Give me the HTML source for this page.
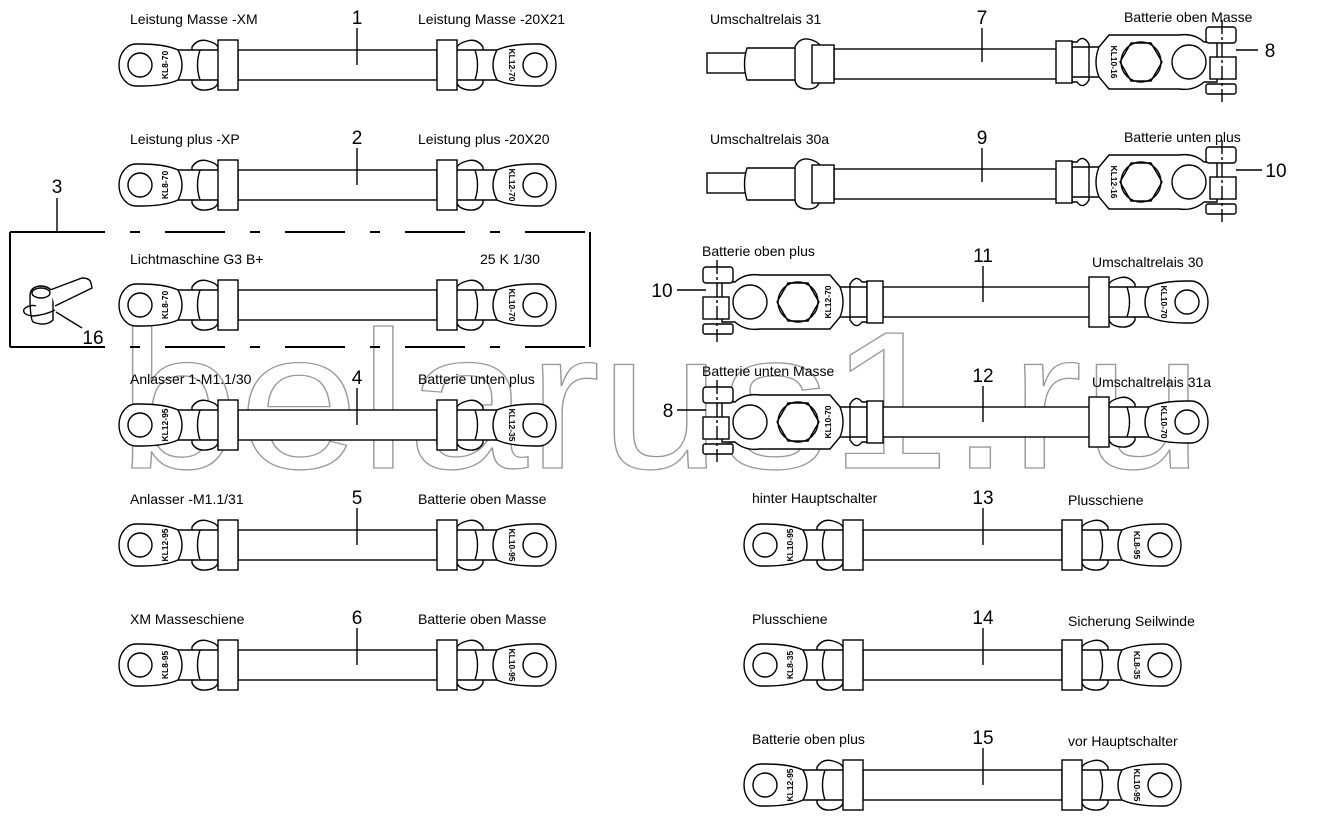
<!DOCTYPE html>
<html><head><meta charset="utf-8"><style>
html,body{margin:0;padding:0;background:#fff}
svg{display:block}
text{font-family:"Liberation Sans",sans-serif;fill:#000}
.l{font-size:14px}.n{font-size:19px}.k{font-size:8.5px;font-weight:bold}
</style></head><body>
<svg width="1320" height="826" viewBox="0 0 1320 826" xmlns="http://www.w3.org/2000/svg">
<defs>
<g id="endL" fill="#fff" stroke="#000" stroke-width="1.4">
  <path d="M 52,-18 Q 58,-27 68,-24 Q 76,-22 78,-18 L 78,18 Q 76,24 66,25 Q 56,26 52,18 Z"/>
  <path d="M 40,-15 L 80,-15 L 80,15 L 40,15 Z" stroke="none"/>
  <line x1="38" y1="-15" x2="80" y2="-15"/><line x1="38" y1="15" x2="80" y2="15"/>
  <path d="M 60,-15 Q 55,0 60,15" fill="none"/>
  <path d="M 38,-15 Q 25,-21 0,-21 L -4,-21 A 17 21 0 0 0 -4,21 L 0,21 Q 25,21 38,15 Q 46,0 38,-15 Z"/>
  <circle cx="0" cy="0" r="12"/>
  <rect x="78" y="-25" width="20" height="50"/>
</g>
<g id="clamp" fill="#fff" stroke="#000" stroke-width="1.4">
  <path d="M 850,-18 Q 856,-28 862,-20 L 867,-20 L 867,20 L 862,20 Q 856,28 850,18 Z"/>
  <line x1="840" y1="-15" x2="868" y2="-15"/><line x1="840" y1="15" x2="868" y2="15"/>
  <rect x="867" y="-21" width="16" height="42"/>
  <path d="M 840,-15 L 830,-27 L 760,-27 Q 745,-29 735,-20 L 722,-20 L 722,20 L 735,20 Q 745,29 760,27 L 830,27 L 840,15 Q 846,0 840,-15 Z"/>
  <circle cx="750" cy="0" r="17"/>
  <circle cx="798" cy="0" r="20"/>
  <polygon points="788,-19 808,-19 819,0 808,19 788,19 777,0" fill="none"/>
  <rect x="703" y="-35" width="30" height="16" rx="3"/>
  <rect x="703" y="-5" width="26" height="22"/>
  <rect x="703" y="22" width="30" height="10" rx="2"/>
  <line x1="717" y1="-42" x2="717" y2="40" stroke-dasharray="14 3 3 3"/>
</g>
</defs>

<text x="118" y="468" font-size="196" textLength="1085" lengthAdjust="spacingAndGlyphs" style="fill:none;stroke:#999;stroke-width:1.3;font-family:'Liberation Sans',sans-serif">belarus1.ru</text>

<g stroke="#000" stroke-width="1.4" fill="#fff">
<rect x="238" y="50" width="199" height="30"/>
<rect x="238" y="170" width="199" height="30"/>
<rect x="238" y="290" width="199" height="30"/>
<rect x="238" y="410" width="199" height="30"/>
<rect x="238" y="530" width="199" height="30"/>
<rect x="238" y="650" width="199" height="30"/>
<rect x="863" y="530" width="199" height="30"/>
<rect x="863" y="650" width="199" height="30"/>
<rect x="863" y="770" width="199" height="30"/>
<rect x="883" y="287" width="217" height="30"/>
<rect x="883" y="407" width="217" height="30"/>
<rect x="834" y="49" width="223" height="30"/>
<rect x="834" y="169" width="223" height="30"/>
</g>
<use href="#endL" transform="translate(140,65)"/><use href="#endL" transform="translate(535,65) scale(-1,1)"/>
<use href="#endL" transform="translate(140,185)"/><use href="#endL" transform="translate(535,185) scale(-1,1)"/>
<use href="#endL" transform="translate(140,305)"/><use href="#endL" transform="translate(535,305) scale(-1,1)"/>
<use href="#endL" transform="translate(140,425)"/><use href="#endL" transform="translate(535,425) scale(-1,1)"/>
<use href="#endL" transform="translate(140,545)"/><use href="#endL" transform="translate(535,545) scale(-1,1)"/>
<use href="#endL" transform="translate(140,665)"/><use href="#endL" transform="translate(535,665) scale(-1,1)"/>
<use href="#endL" transform="translate(765,545)"/><use href="#endL" transform="translate(1160,545) scale(-1,1)"/>
<use href="#endL" transform="translate(765,665)"/><use href="#endL" transform="translate(1160,665) scale(-1,1)"/>
<use href="#endL" transform="translate(765,785)"/><use href="#endL" transform="translate(1160,785) scale(-1,1)"/>
<use href="#endL" transform="translate(1187,302) scale(-1,1)"/>
<use href="#endL" transform="translate(1187,422) scale(-1,1)"/>
<use href="#clamp" transform="translate(0,302)"/>
<use href="#clamp" transform="translate(0,422)"/>
<use href="#clamp" transform="translate(1939,62) scale(-1,1)"/>
<use href="#clamp" transform="translate(1939,182) scale(-1,1)"/>

<g stroke="#000" stroke-width="1.4" fill="#fff">
<rect x="707" y="53" width="40" height="20"/>
<path d="M 747,48 L 810,48 L 810,80 L 747,80 Q 742,64 747,48 Z"/>
<path d="M 795,47 Q 800,36 812,40 Q 822,44 820,48 L 820,80 Q 818,90 806,89 Q 796,88 795,80 Z"/>
<rect x="812" y="45" width="22" height="38"/>
<rect x="707" y="173" width="40" height="20"/>
<path d="M 747,168 L 810,168 L 810,200 L 747,200 Q 742,184 747,168 Z"/>
<path d="M 795,167 Q 800,156 812,160 Q 822,164 820,168 L 820,200 Q 818,210 806,209 Q 796,208 795,200 Z"/>
<rect x="812" y="165" width="22" height="38"/>
</g>

<g class="k">
<text class="k" transform="translate(168,65) rotate(-90)" text-anchor="middle">KL8-70</text>
<text class="k" transform="translate(509,65) rotate(90)" text-anchor="middle">KL12-70</text>
<text class="k" transform="translate(168,185) rotate(-90)" text-anchor="middle">KL8-70</text>
<text class="k" transform="translate(509,185) rotate(90)" text-anchor="middle">KL12-70</text>
<text class="k" transform="translate(168,305) rotate(-90)" text-anchor="middle">KL8-70</text>
<text class="k" transform="translate(509,305) rotate(90)" text-anchor="middle">KL10-70</text>
<text class="k" transform="translate(168,425) rotate(-90)" text-anchor="middle">KL12-95</text>
<text class="k" transform="translate(509,425) rotate(90)" text-anchor="middle">KL12-35</text>
<text class="k" transform="translate(168,545) rotate(-90)" text-anchor="middle">KL12-95</text>
<text class="k" transform="translate(509,545) rotate(90)" text-anchor="middle">KL10-95</text>
<text class="k" transform="translate(168,665) rotate(-90)" text-anchor="middle">KL8-95</text>
<text class="k" transform="translate(509,665) rotate(90)" text-anchor="middle">KL10-95</text>
<text class="k" transform="translate(793,545) rotate(-90)" text-anchor="middle">KL10-95</text>
<text class="k" transform="translate(1134,545) rotate(90)" text-anchor="middle">KL8-95</text>
<text class="k" transform="translate(793,665) rotate(-90)" text-anchor="middle">KL8-35</text>
<text class="k" transform="translate(1134,665) rotate(90)" text-anchor="middle">KL8-35</text>
<text class="k" transform="translate(793,785) rotate(-90)" text-anchor="middle">KL12-95</text>
<text class="k" transform="translate(1134,785) rotate(90)" text-anchor="middle">KL10-95</text>
<text class="k" transform="translate(1161,302) rotate(90)" text-anchor="middle">KL10-70</text>
<text class="k" transform="translate(1161,422) rotate(90)" text-anchor="middle">KL10-70</text>
<text class="k" transform="translate(831,302) rotate(-90)" text-anchor="middle">KL12-70</text>
<text class="k" transform="translate(831,422) rotate(-90)" text-anchor="middle">KL10-70</text>
<text class="k" transform="translate(1111,62) rotate(90)" text-anchor="middle">KL10-16</text>
<text class="k" transform="translate(1111,182) rotate(90)" text-anchor="middle">KL12-16</text>
</g>

<g stroke="#000" stroke-width="1.4" fill="none">
<line x1="357" y1="28" x2="357" y2="65"/>
<line x1="357" y1="148" x2="357" y2="185"/>
<line x1="357" y1="388" x2="357" y2="425"/>
<line x1="357" y1="508" x2="357" y2="545"/>
<line x1="357" y1="628" x2="357" y2="665"/>
<line x1="982" y1="28" x2="982" y2="62"/>
<line x1="982" y1="148" x2="982" y2="182"/>
<line x1="983" y1="266" x2="983" y2="302"/>
<line x1="983" y1="386" x2="983" y2="422"/>
<line x1="983" y1="508" x2="983" y2="545"/>
<line x1="983" y1="628" x2="983" y2="665"/>
<line x1="983" y1="748" x2="983" y2="785"/>
<line x1="1236" y1="50" x2="1258" y2="50"/>
<line x1="1236" y1="170" x2="1262" y2="170"/>
<line x1="677" y1="290" x2="706" y2="290"/>
<line x1="677" y1="410" x2="706" y2="410"/>
<line x1="57" y1="198" x2="57" y2="232"/>
<g stroke-width="2">
<line x1="10" y1="232" x2="10" y2="347"/>
<line x1="590" y1="232" x2="590" y2="347"/>
<line x1="10" y1="232" x2="590" y2="232" stroke-dasharray="95 25 10 25 60 25 10 25 60 25 10 25 60 25 10 25 60 25 10 25 200"/>
<line x1="10" y1="347" x2="590" y2="347" stroke-dasharray="95 25 10 25 60 25 10 25 60 25 10 25 60 25 10 25 60 25 10 25 200"/>
</g>
<path d="M 30,296 Q 30,287 40,286 Q 52,286 53,296 L 53,320 Q 46,327 33,322 Q 30,318 30,296 Z" fill="#fff"/>
<ellipse cx="41" cy="293" rx="9" ry="5" fill="#fff"/>
<path d="M 50,290 L 82,278 Q 90,278 91,283 L 92,288 L 55,306" fill="#fff"/>
<path d="M 24,309 Q 30,304 36,306 M 24,309 Q 22,315 33,316 Q 45,315 55,310"/>
<line x1="56" y1="312" x2="82" y2="328"/>
</g>

<g class="l">
<text class="l" x="130" y="24">Leistung Masse -XM</text>
<text class="l" x="418" y="24">Leistung Masse -20X21</text>
<text class="l" x="130" y="144">Leistung plus -XP</text>
<text class="l" x="418" y="144">Leistung plus -20X20</text>
<text class="l" x="130" y="264">Lichtmaschine G3 B+</text>
<text class="l" x="480" y="264">25 K 1/30</text>
<text class="l" x="130" y="384">Anlasser 1-M1.1/30</text>
<text class="l" x="418" y="384">Batterie unten plus</text>
<text class="l" x="130" y="504">Anlasser -M1.1/31</text>
<text class="l" x="418" y="504">Batterie oben Masse</text>
<text class="l" x="130" y="624">XM Masseschiene</text>
<text class="l" x="418" y="624">Batterie oben Masse</text>
<text class="l" x="710" y="24">Umschaltrelais 31</text>
<text class="l" x="1124" y="22">Batterie oben Masse</text>
<text class="l" x="710" y="144">Umschaltrelais 30a</text>
<text class="l" x="1124" y="142">Batterie unten plus</text>
<text class="l" x="702" y="256">Batterie oben plus</text>
<text class="l" x="1092" y="267">Umschaltrelais 30</text>
<text class="l" x="702" y="376">Batterie unten Masse</text>
<text class="l" x="1092" y="387">Umschaltrelais 31a</text>
<text class="l" x="752" y="503">hinter Hauptschalter</text>
<text class="l" x="1068" y="505">Plusschiene</text>
<text class="l" x="752" y="624">Plusschiene</text>
<text class="l" x="1068" y="626">Sicherung Seilwinde</text>
<text class="l" x="752" y="744">Batterie oben plus</text>
<text class="l" x="1068" y="746">vor Hauptschalter</text>
</g>
<g class="n" text-anchor="middle">
<text class="n" x="357" y="24">1</text>
<text class="n" x="357" y="144">2</text>
<text class="n" x="57" y="193">3</text>
<text class="n" x="357" y="384">4</text>
<text class="n" x="357" y="504">5</text>
<text class="n" x="357" y="624">6</text>
<text class="n" x="982" y="24">7</text>
<text class="n" x="1270" y="57">8</text>
<text class="n" x="982" y="144">9</text>
<text class="n" x="1276" y="177">10</text>
<text class="n" x="662" y="297">10</text>
<text class="n" x="983" y="262">11</text>
<text class="n" x="668" y="417">8</text>
<text class="n" x="983" y="382">12</text>
<text class="n" x="983" y="504">13</text>
<text class="n" x="983" y="624">14</text>
<text class="n" x="983" y="744">15</text>
<text class="n" x="93" y="344">16</text>
</g>
</svg>
</body></html>
